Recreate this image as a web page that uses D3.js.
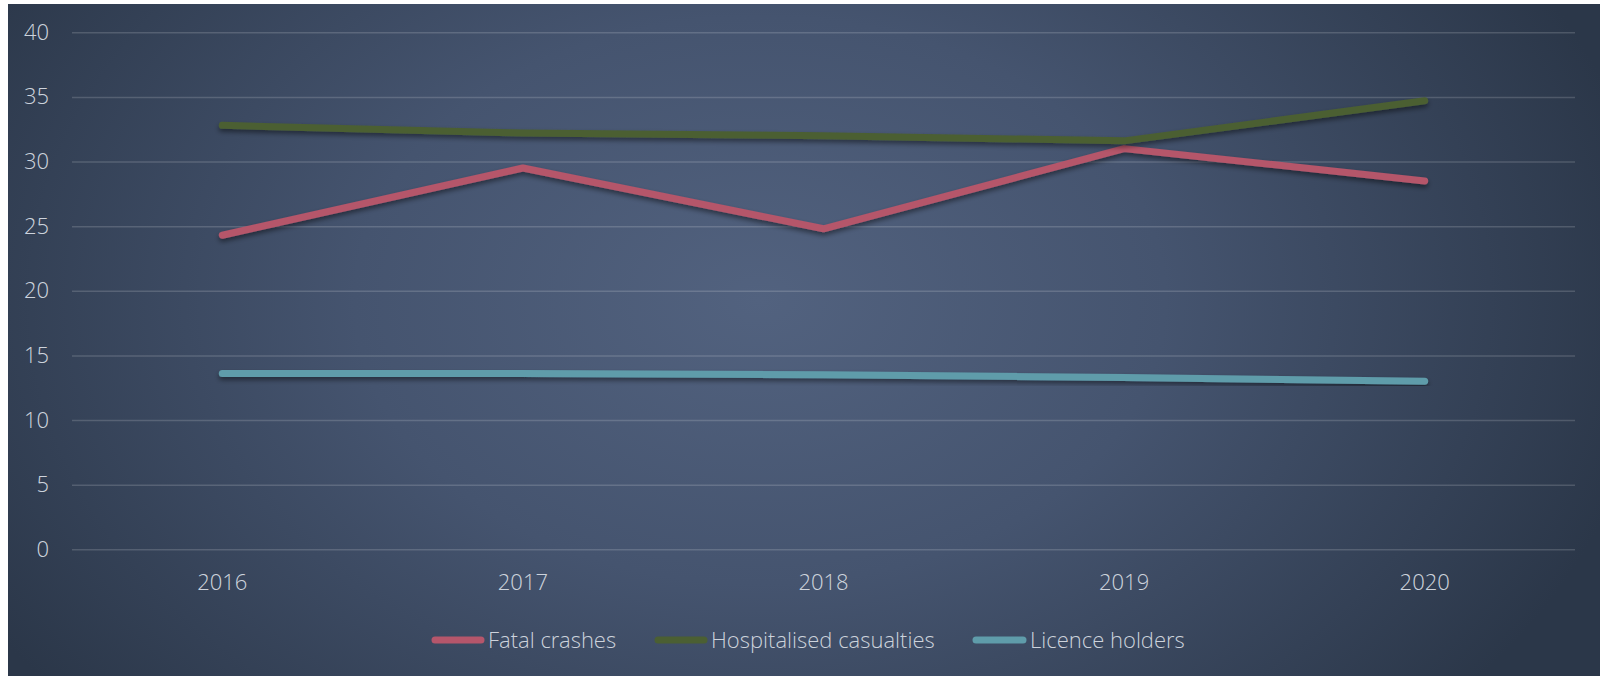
<!DOCTYPE html>
<html>
<head>
<meta charset="utf-8">
<script src="https://cdn.jsdelivr.net/npm/d3@7"></script>
<style>
  html, body { margin: 0; padding: 0; background: #ffffff; }
  svg { display: block; }
  text { font-family: "Open Sans Light", "Open Sans", "Noto Sans", sans-serif; font-weight: 300; }
</style>
</head>
<body>
<svg id="chart" width="1600" height="676"></svg>
<script>
// Index values by year
const years = ["2016", "2017", "2018", "2019", "2020"];
const fatalCrashes = [24.3, 29.5, 24.8, 31.0, 28.5];
const hospitalisedCasualties = [32.8, 32.2, 32.0, 31.6, 34.7];
const licenceHolders = [13.6, 13.6, 13.5, 13.3, 13.0];
const yTicks = [0, 5, 10, 15, 20, 25, 30, 35, 40];

const series = [
  { name: "Fatal crashes", values: fatalCrashes, color: "#b5566b" },
  { name: "Hospitalised casualties", values: hospitalisedCasualties, color: "#4b5f33" },
  { name: "Licence holders", values: licenceHolders, color: "#5f9caa" }
];

const W = 1600, H = 676;
const FONT = "'Open Sans Light', 'Open Sans', sans-serif";
const TEXT_COLOR = "#cdd3dc";
const svg = d3.select("#chart");
const defs = svg.append("defs");

// Panel background: soft radial glow on slate blue
const grad = defs.append("radialGradient")
  .attr("id", "bg").attr("gradientUnits", "userSpaceOnUse")
  .attr("cx", 760).attr("cy", 300).attr("r", 900)
  .attr("gradientTransform", "translate(760,300) scale(1,0.7) translate(-760,-300)");
grad.append("stop").attr("offset", "0%").attr("stop-color", "#52627f");
grad.append("stop").attr("offset", "45%").attr("stop-color", "#45546f");
grad.append("stop").attr("offset", "100%").attr("stop-color", "#2b3749");

const shadow = defs.append("filter").attr("id", "shadow")
  .attr("x", "-5%").attr("y", "-50%").attr("width", "110%").attr("height", "200%");
shadow.append("feDropShadow").attr("dx", 0).attr("dy", 3).attr("stdDeviation", 2.5)
  .attr("flood-color", "#000").attr("flood-opacity", 0.45);

svg.append("rect").attr("x", 8).attr("y", 4).attr("width", W - 8).attr("height", H - 4)
  .attr("fill", "url(#bg)");

const plotLeft = 72, plotRight = 1575, plotTop = 32.3, plotBottom = 549.3;

const x = d3.scaleBand().domain(years).range([plotLeft, plotRight]);
const y = d3.scaleLinear().domain([0, 40]).range([plotBottom, plotTop]);
const cx = d => x(d) + x.bandwidth() / 2;

// Horizontal gridlines
svg.append("g")
  .attr("transform", `translate(${plotLeft},0)`)
  .call(d3.axisLeft(y).tickValues(yTicks).tickSize(-(plotRight - plotLeft)).tickFormat(""))
  .call(g => g.select(".domain").remove())
  .call(g => g.selectAll("line").attr("stroke", "#ffffff").attr("stroke-opacity", 0.16).attr("stroke-width", 1.5));

// Y tick labels
svg.append("g")
  .attr("transform", `translate(49,0)`)
  .call(d3.axisLeft(y).tickValues(yTicks).tickSize(0).tickPadding(0))
  .call(g => g.select(".domain").remove())
  .call(g => g.selectAll("text")
    .attr("fill", TEXT_COLOR).attr("font-size", 22).attr("text-anchor", "end")
    .style("font-family", FONT).style("font-weight", 300));

// X tick labels
svg.append("g")
  .attr("transform", `translate(0,${plotBottom})`)
  .call(d3.axisBottom(x).tickSize(0).tickPadding(25))
  .call(g => g.select(".domain").remove())
  .call(g => g.selectAll("text")
    .attr("fill", TEXT_COLOR).attr("font-size", 22)
    .style("font-family", FONT).style("font-weight", 300));

// Series lines
const line = d3.line().x((d, i) => cx(years[i])).y(d => y(d));
svg.append("g").selectAll("path").data(series).join("path")
  .attr("d", d => line(d.values))
  .attr("fill", "none")
  .attr("stroke", d => d.color)
  .attr("stroke-width", 7)
  .attr("stroke-linecap", "round")
  .attr("stroke-linejoin", "round")
  .attr("filter", "url(#shadow)");

// Legend: swatch line then label
const legendPos = [
  { x1: 435, x2: 481, tx: 488 },
  { x1: 658, x2: 704, tx: 711 },
  { x1: 976, x2: 1023, tx: 1030 }
];
const legend = svg.append("g").attr("transform", "translate(0,640)");
const li = legend.selectAll("g").data(series).join("g");
li.append("line")
  .attr("x1", (d, i) => legendPos[i].x1)
  .attr("x2", (d, i) => legendPos[i].x2)
  .attr("y1", 0).attr("y2", 0)
  .attr("stroke", d => d.color).attr("stroke-width", 7).attr("stroke-linecap", "round");
li.append("text")
  .attr("x", (d, i) => legendPos[i].tx)
  .attr("y", 0).attr("dy", "0.35em")
  .attr("fill", TEXT_COLOR).attr("font-size", 22)
  .style("font-family", FONT).style("font-weight", 300)
  .text(d => d.name);
</script>
</body>
</html>
